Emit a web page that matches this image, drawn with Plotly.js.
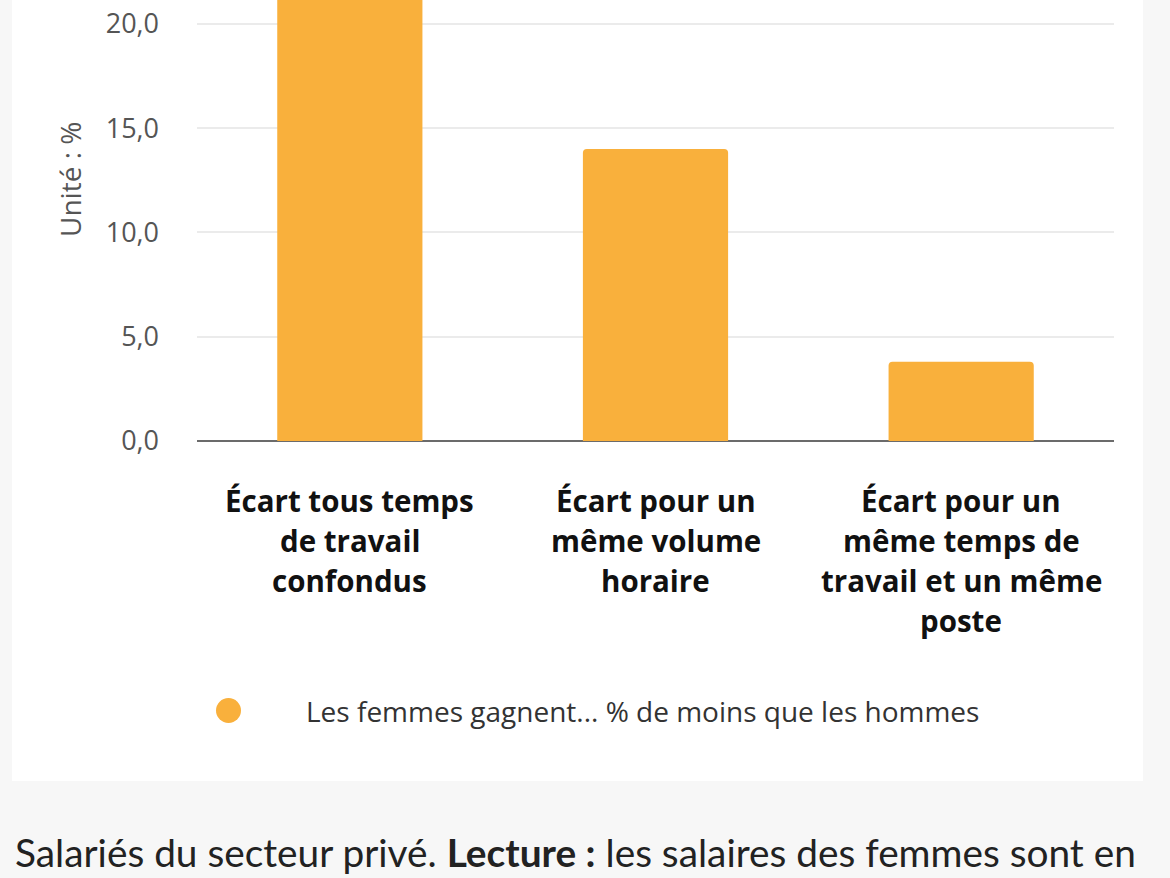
<!DOCTYPE html>
<html>
<head>
<meta charset="utf-8">
<script src="https://cdn.plot.ly/plotly-3.0.1.min.js"></script>
<style>
  body { margin: 0; background: #f7f7f7; }
  #chart { width: 1170px; height: 878px; }
</style>
</head>
<body>
<div id="chart"></div>
<script>
// categories (lines of each label) and values
const categories = [
  'Écart tous temps de travail confondus',
  'Écart pour un même volume horaire',
  'Écart pour un même temps de travail et un même poste'
];
const labelLines = [
  ['Écart tous temps', 'de travail', 'confondus'],
  ['Écart pour un', 'même volume', 'horaire'],
  ['Écart pour un', 'même temps de', 'travail et un même', 'poste']
];
const ecart = [22.2, 14.0, 3.8];
const yTicks = [0, 5, 10, 15, 20];

const serieName = 'Les femmes gagnent... % de moins que les hommes';
const yTitle = 'Unité : %';
const orange = '#f9b03c';

const W = 1170, H = 878;
const marg = { l: 197, r: 56, t: 0, b: 437 };

let data = [{
  type: 'bar',
  x: categories,
  y: ecart,
  marker: { color: orange, cornerradius: 4 },
  showlegend: false,
  hoverinfo: 'skip'
}];

function px2x(px){ return (px - marg.l) / (W - marg.l - marg.r); }
function px2y(py){ return (H - marg.b - py) / (H - marg.t - marg.b); }

// labels under each bar, one annotation per line to get the wide line spacing
let annotations = [];
for (let i = 0; i < categories.length; i++) {
  let lines = labelLines[i];
  for (let j = 0; j < lines.length; j++) {
    annotations.push({
      xref: 'x', yref: 'paper',
      x: categories[i], y: 0,
      yanchor: 'middle', xanchor: 'center',
      yshift: -59 - j * 40,
      text: '<b>' + lines[j] + '</b>',
      showarrow: false,
      font: { family: 'Open Sans, sans-serif', size: 29.5, color: '#111' }
    });
  }
}

// y title, rotated, placed like the original
annotations.push({
  xref: 'paper', yref: 'paper',
  x: px2x(70), y: px2y(180),
  text: yTitle, textangle: -90, showarrow: false,
  xanchor: 'center', yanchor: 'middle',
  font: { family: 'Open Sans, sans-serif', size: 28, color: '#555' }
});

// legend text
annotations.push({
  xref: 'paper', yref: 'paper',
  x: px2x(304), y: px2y(711),
  xanchor: 'left', yanchor: 'middle',
  text: serieName, showarrow: false,
  font: { family: 'Open Sans, sans-serif', size: 28, color: '#333' }
});

// caption below the card
annotations.push({
  xref: 'paper', yref: 'paper',
  x: px2x(13), y: px2y(852),
  xanchor: 'left', yanchor: 'middle',
  text: 'Salariés du secteur privé. <b>Lecture :</b> les salaires des femmes sont en',
  showarrow: false,
  font: { family: 'Lato, sans-serif', size: 38.8, color: '#222' }
});

let shapes = [
  // white card
  { type: 'rect', xref: 'paper', yref: 'paper', layer: 'below',
    x0: px2x(12), x1: px2x(1143), y0: px2y(781), y1: px2y(0),
    fillcolor: '#ffffff', line: { width: 0 } },
  // legend dot
  { type: 'circle', xref: 'paper', yref: 'paper',
    x0: px2x(216), x1: px2x(241), y0: px2y(723), y1: px2y(698),
    fillcolor: orange, line: { width: 0 } }
];

let layout = {
  width: W, height: H,
  margin: marg,
  paper_bgcolor: '#f7f7f7',
  plot_bgcolor: 'rgba(0,0,0,0)',
  separators: ', ',
  bargap: 0.525,
  showlegend: false,
  xaxis: {
    showticklabels: false,
    showgrid: false,
    zeroline: false,
    showline: false,
    fixedrange: true
  },
  yaxis: {
    range: [0, 21.15],
    tickvals: yTicks,
    tickformat: '.1f',
    ticklabelstandoff: 37,
    gridcolor: '#ebebeb',
    gridwidth: 2,
    zeroline: true,
    zerolinecolor: '#6b6b6b',
    zerolinewidth: 2.5,
    tickfont: { family: 'Open Sans, sans-serif', size: 27, color: '#555' },
    fixedrange: true
  },
  annotations: annotations,
  shapes: shapes
};

Plotly.newPlot('chart', data, layout, { staticPlot: true, displaylogo: false });
</script>
</body>
</html>
